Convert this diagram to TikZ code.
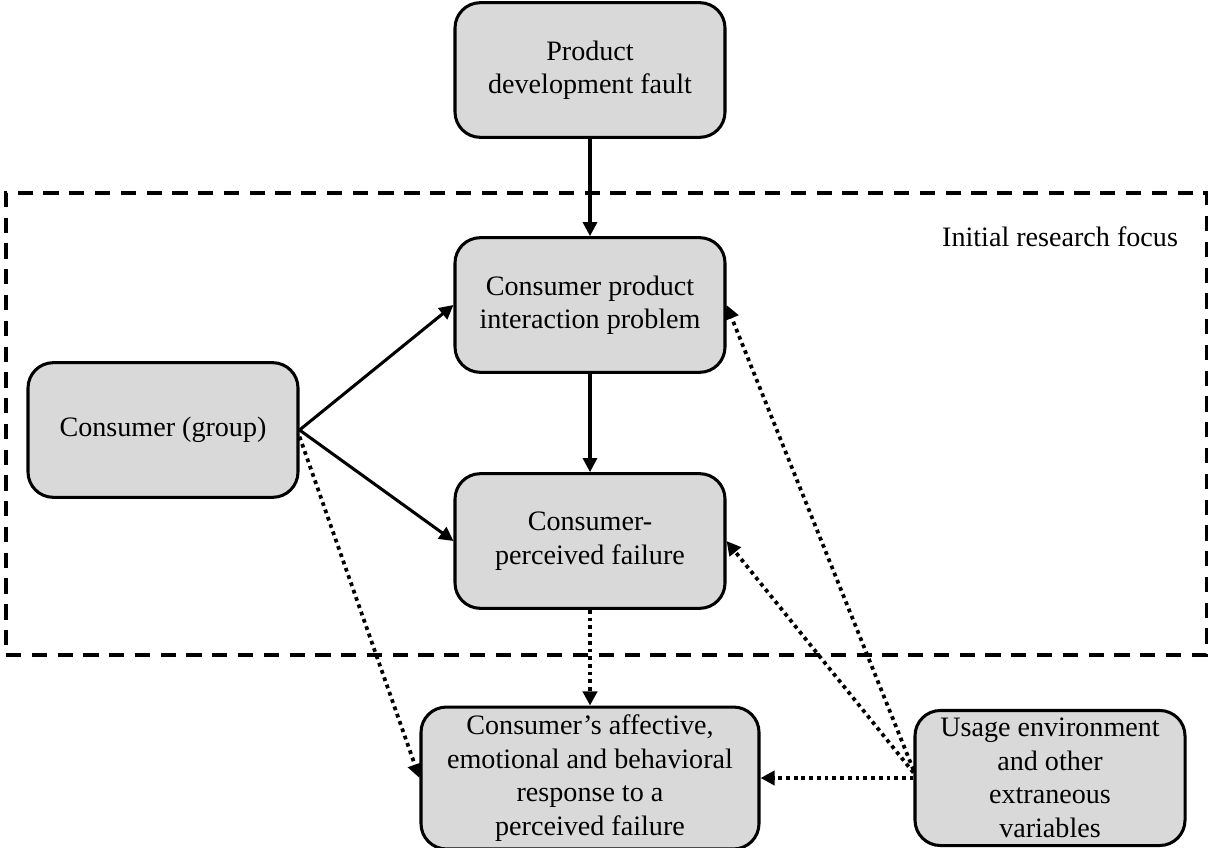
\documentclass[tikz,border=0pt]{standalone}
\usepackage{fontspec}
\setmainfont{Liberation Serif}
\usetikzlibrary{arrows.meta,positioning}
\definecolor{boxgray}{HTML}{D9D9D9}

\tikzset{
  factor/.style={draw, fill=boxgray, line width=1.3pt, rounded corners=0.38cm,
    minimum width=4.05cm, minimum height=2.02cm, align=center,
    font=\fontsize{12}{14.3}\selectfont},
  focusframe/.style={draw, line width=1.3pt, dash pattern=on 6.5pt off 4.5pt},
  dots/.style={line width=1.6pt, dash pattern=on 1.6pt off 1.7pt}
}

\begin{document}
\begin{tikzpicture}[>={Triangle[length=6pt,width=6pt]},node distance=2cm,on grid]
                \useasboundingbox (0,0) rectangle (18.195,-12.705);
                \node[focusframe,minimum width=18cm,minimum height=6.93cm] (focus) at (9.09,-6.36) {};
                \node[anchor=east,font=\fontsize{12}{14}\selectfont] (focuslbl) at ([xshift=-0.32cm,yshift=-0.68cm]focus.north east) {Initial research focus};
                \node[factor] (prod) at (8.85,-1.05) {Product\\development fault};
                \node[factor] (cpi) [below=3.525cm of prod] {Consumer product\\interaction problem};
                \node[factor] (cpf) [below=3.54cm of cpi] {Consumer-\\perceived failure};
                \node[factor] (grp) [below left=1.875cm and 6.405cm of cpi] {Consumer (group)};
                \node[factor,minimum width=5.07cm] (resp) [below=3.555cm of cpf] {Consumer's affective,\\emotional and behavioral\\response to a\\perceived failure};
                \node[factor] (env) [right=6.9cm of resp] {Usage environment\\and other\\extraneous\\variables};
                \path[->,line width=1.3pt]
                (prod) edge (cpi)
                (cpi) edge (cpf)
                (grp.east) edge (cpi.west)
                (grp.east) edge (cpf.west);
                \path[->,dots]
                (cpf) edge (resp)
                ([yshift=-0.1cm]grp.east) edge (resp.west)
                (env.west) edge (resp.east)
                ([yshift=0.12cm]env.west) edge (cpi.east)
                ([yshift=0.08cm]env.west) edge (cpf.east);
            \end{tikzpicture}
\end{document}
